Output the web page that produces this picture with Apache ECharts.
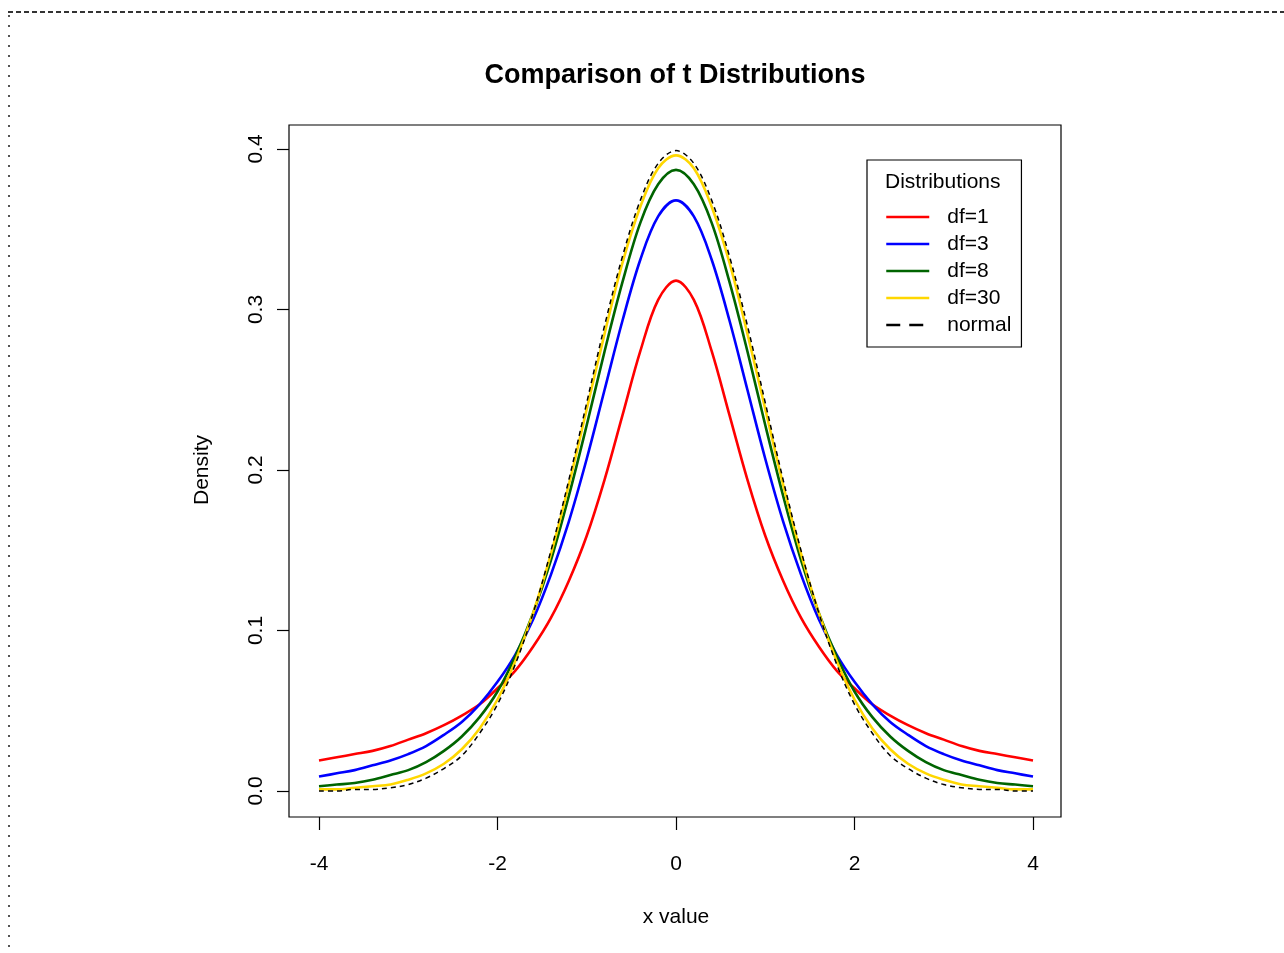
<!DOCTYPE html>
<html>
<head>
<meta charset="utf-8">
<title>Comparison of t Distributions</title>
<script src="https://cdn.jsdelivr.net/npm/echarts@6/dist/echarts.min.js"></script>
<style>
  html, body { margin: 0; padding: 0; background: #fff; }
  #chart { width: 1284px; height: 953px; }
</style>
</head>
<body>
<div id="chart"></div>
<script>
// x grid the curves were read on (-4 .. 4, step 0.2)
const xValues = [-4, -3.8, -3.6, -3.4, -3.2, -3, -2.8, -2.6, -2.4, -2.2, -2, -1.8, -1.6, -1.4, -1.2, -1, -0.8, -0.6, -0.4, -0.2,
  0, 0.2, 0.4, 0.6, 0.8, 1, 1.2, 1.4, 1.6, 1.8, 2, 2.2, 2.4, 2.6, 2.8, 3, 3.2, 3.4, 3.6, 3.8, 4];

// densities
const df1 = [0.019, 0.021, 0.023, 0.025, 0.028, 0.032, 0.036, 0.041, 0.047, 0.054, 0.064, 0.075, 0.090, 0.108, 0.131, 0.159, 0.194, 0.234, 0.274, 0.306,
  0.318, 0.306, 0.274, 0.234, 0.194, 0.159, 0.131, 0.108, 0.090, 0.075, 0.064, 0.054, 0.047, 0.041, 0.036, 0.032, 0.028, 0.025, 0.023, 0.021, 0.019];
const df3 = [0.009, 0.011, 0.013, 0.016, 0.019, 0.023, 0.028, 0.035, 0.043, 0.054, 0.068, 0.085, 0.107, 0.135, 0.168, 0.207, 0.250, 0.293, 0.331, 0.358,
  0.368, 0.358, 0.331, 0.293, 0.250, 0.207, 0.168, 0.135, 0.107, 0.085, 0.068, 0.054, 0.043, 0.035, 0.028, 0.023, 0.019, 0.016, 0.013, 0.011, 0.009];
const df8 = [0.003, 0.004, 0.005, 0.007, 0.010, 0.013, 0.018, 0.025, 0.034, 0.046, 0.062, 0.084, 0.111, 0.144, 0.184, 0.228, 0.274, 0.317, 0.354, 0.378,
  0.387, 0.378, 0.354, 0.317, 0.274, 0.228, 0.184, 0.144, 0.111, 0.084, 0.062, 0.046, 0.034, 0.025, 0.018, 0.013, 0.010, 0.007, 0.005, 0.004, 0.003];
const df30 = [0.001, 0.001, 0.002, 0.003, 0.004, 0.007, 0.011, 0.017, 0.026, 0.039, 0.057, 0.081, 0.111, 0.148, 0.191, 0.238, 0.285, 0.329, 0.364, 0.388,
  0.396, 0.388, 0.364, 0.329, 0.285, 0.238, 0.191, 0.148, 0.111, 0.081, 0.057, 0.039, 0.026, 0.017, 0.011, 0.007, 0.004, 0.003, 0.002, 0.001, 0.001];
const normal = [0.000, 0.000, 0.001, 0.001, 0.002, 0.004, 0.008, 0.014, 0.022, 0.036, 0.054, 0.079, 0.111, 0.150, 0.194, 0.242, 0.290, 0.333, 0.368, 0.391,
  0.399, 0.391, 0.368, 0.333, 0.290, 0.242, 0.194, 0.150, 0.111, 0.079, 0.054, 0.036, 0.022, 0.014, 0.008, 0.004, 0.002, 0.001, 0.001, 0.000, 0.000];

const seriesNames = ['df=1', 'df=3', 'df=8', 'df=30', 'normal'];
const seriesValues = [df1, df3, df8, df30, normal];
const seriesColors = ['#ff0000', '#0000ff', '#006400', '#ffd700', '#000000'];

const xTicks = { min: -4, max: 4, step: 2 };
const yTicks = { min: 0, max: 0.4, step: 0.1 };

const FONT = 'Liberation Sans, Arial, Helvetica, sans-serif';

const chart = echarts.init(document.getElementById('chart'), null, { renderer: 'canvas' });

const series = seriesNames.map((name, k) => ({
  name: name,
  type: 'line',
  xAxisIndex: 1,
  yAxisIndex: 1,
  data: xValues.map((x, i) => [x, seriesValues[k][i]]),
  symbol: 'none',
  smooth: 0.35,
  clip: false,
  silent: true,
  z: 3 + k,
  lineStyle: name === 'normal'
    ? { color: '#000', width: 1.5, type: [5, 4] }
    : { color: seriesColors[k], width: 2.6 }
}));

chart.setOption({
  animation: false,
  backgroundColor: '#fff',
  textStyle: { fontFamily: FONT },
  title: [
    {
      text: 'Comparison of t Distributions',
      left: 670, top: 57, textAlign: 'center',
      textStyle: { fontFamily: FONT, fontSize: 27, fontWeight: 'bold', color: '#000' }
    },
    {
      text: 'Distributions',
      left: 885, top: 172, padding: 0,
      textStyle: { fontFamily: FONT, fontSize: 21, fontWeight: 'normal', color: '#000' }
    }
  ],
  legend: {
    data: seriesNames.map((n) => n === 'normal'
      ? { name: n, lineStyle: { type: [14, 9], width: 2.5, color: '#000' } }
      : { name: n }),
    orient: 'vertical',
    left: 867, top: 160,
    padding: [46, 10, 11, 18],
    itemWidth: 43, itemHeight: 14, itemGap: 5,
    itemStyle: { color: 'rgba(0,0,0,0)', borderWidth: 0 },
    lineStyle: { width: 2.5 },
    selectedMode: false,
    backgroundColor: '#fff',
    borderColor: '#000', borderWidth: 1.2, borderRadius: 0,
    textStyle: { fontFamily: FONT, fontSize: 21, color: '#000', lineHeight: 22, padding: [0, 0, 0, 13] }
  },
  grid: [
    // plot box
    { left: 289, top: 125, width: 772, height: 692, show: true, borderColor: '#000', borderWidth: 1.2,
      backgroundColor: 'transparent', containLabel: false, outerBoundsMode: 'none' },
    // data region: -4..4 by 0..0.4
    { left: 319, top: 149, width: 714, height: 642, containLabel: false, outerBoundsMode: 'none' }
  ],
  xAxis: [
    { gridIndex: 0, type: 'value', min: -4.336, max: 4.314, show: false },
    {
      gridIndex: 1, type: 'value', min: xTicks.min, max: xTicks.max, interval: xTicks.step,
      position: 'bottom', offset: 26,
      axisLine: { show: false, onZero: false },
      axisTick: { show: true, inside: false, length: 13, lineStyle: { color: '#000', width: 1.2 } },
      axisLabel: { show: true, margin: 37, fontFamily: FONT, fontSize: 21, color: '#000',
        showMinLabel: true, showMaxLabel: true },
      splitLine: { show: false },
      name: 'x value', nameLocation: 'middle', nameGap: 90,
      nameTextStyle: { fontFamily: FONT, fontSize: 21, color: '#000' }
    }
  ],
  yAxis: [
    { gridIndex: 0, type: 'value', min: -0.016, max: 0.415, show: false },
    {
      gridIndex: 1, type: 'value', min: yTicks.min, max: yTicks.max, interval: yTicks.step,
      position: 'left', offset: 30,
      axisLine: { show: false, onZero: false },
      axisTick: { show: true, inside: false, length: 12, lineStyle: { color: '#000', width: 1.2 } },
      axisLabel: { show: true, rotate: 90, margin: 22, fontFamily: FONT, fontSize: 21, color: '#000',
        showMinLabel: true, showMaxLabel: true, formatter: (v) => v.toFixed(1) },
      splitLine: { show: false },
      name: 'Density', nameLocation: 'middle', nameGap: 76, nameRotate: 90,
      nameTextStyle: { fontFamily: FONT, fontSize: 21, color: '#000' }
    }
  ],
  graphic: [
    { type: 'line', silent: true, shape: { x1: 8, y1: 12, x2: 1284, y2: 12 },
      style: { stroke: '#333', lineWidth: 2, lineDash: [5, 3] } },
    { type: 'line', silent: true, shape: { x1: 9, y1: 15, x2: 9, y2: 953 },
      style: { stroke: '#555', lineWidth: 2, lineDash: [2, 8] } }
  ],
  series: series
});
</script>
</body>
</html>
